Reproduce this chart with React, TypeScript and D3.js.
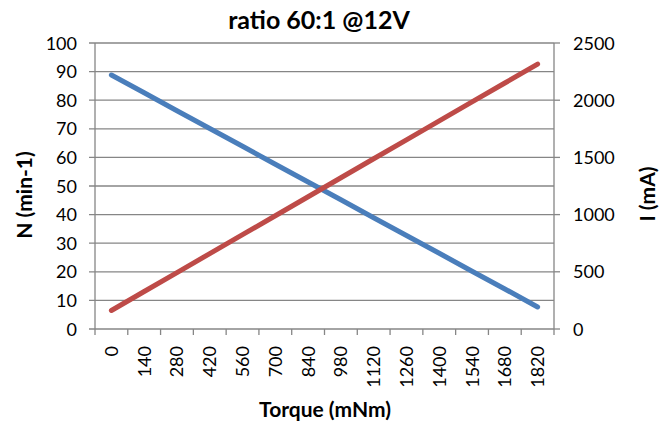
import React from "react";
import * as d3 from "d3";

const categories = ["0","140","280","420","560","700","840","980","1120","1260","1400","1540","1680","1820"];
const speedN = [88.8, 82.6, 76.3, 70.1, 63.9, 57.6, 51.4, 45.2, 38.9, 32.7, 26.5, 20.2, 14.0, 7.7];
const currentMA = [162, 328, 493, 659, 825, 990, 1156, 1322, 1488, 1653, 1819, 1985, 2150, 2316];
const leftTicks = [0,10,20,30,40,50,60,70,80,90,100];
const rightTicks = [0,500,1000,1500,2000,2500];

const W = 672, H = 430;
const L = 95, R = 554, T = 43, B = 329;
const FONT = "Lato, 'Open Sans', sans-serif";
const GRID = "#868686";
const TICK_FS = 18;

export default function App() {
  const x = d3.scaleBand<string>().domain(categories).range([L, R]);
  const yL = d3.scaleLinear().domain([0, 100]).range([B, T]);
  const yR = d3.scaleLinear().domain([0, 2500]).range([B, T]);
  const cx = (c: string) => (x(c) as number) + x.bandwidth() / 2;
  const lineN = d3.line<number>().x((_, i) => cx(categories[i])).y(d => yL(d));
  const lineI = d3.line<number>().x((_, i) => cx(categories[i])).y(d => yR(d));
  const bounds = categories.map(c => x(c) as number).concat([R]);

  return (
    <svg width={W} height={H} style={{ position: "absolute", left: 0, top: 0, background: "#fff" }}>
      <rect x={0} y={0} width={W} height={H} fill="#fff" />
      <text x={319} y={28.5} textAnchor="middle" fontFamily={FONT} fontWeight="bold" fontSize={25}>ratio 60:1 @12V</text>
      {leftTicks.map(t => (
        <g key={"g" + t}>
          <line x1={L - 6} x2={R} y1={yL(t)} y2={yL(t)} stroke={GRID} strokeWidth={1.3} />
          <text x={77} y={yL(t) + 6.5} textAnchor="end" fontFamily={FONT} fontSize={TICK_FS}>{t}</text>
        </g>
      ))}
      {rightTicks.map(t => (
        <g key={"r" + t}>
          <line x1={R} x2={R + 6} y1={yR(t)} y2={yR(t)} stroke={GRID} strokeWidth={1.3} />
          <text x={573} y={yR(t) + 6.5} textAnchor="start" fontFamily={FONT} fontSize={TICK_FS}>{t}</text>
        </g>
      ))}
      <line x1={L} x2={L} y1={T} y2={B} stroke={GRID} strokeWidth={1.3} />
      <line x1={R} x2={R} y1={T} y2={B} stroke={GRID} strokeWidth={1.3} />
      {bounds.map((b, i) => (
        <line key={"xt" + i} x1={b} x2={b} y1={B} y2={B + 6} stroke={GRID} strokeWidth={1.3} />
      ))}
      {categories.map(c => (
        <text key={"xl" + c} transform={`translate(${cx(c) + 6.5},${346}) rotate(-90)`} textAnchor="end" fontFamily={FONT} fontSize={TICK_FS}>{c}</text>
      ))}
      <path d={lineN(speedN) || ""} fill="none" stroke="#4A7EBB" strokeWidth={5} strokeLinecap="round" />
      <path d={lineI(currentMA) || ""} fill="none" stroke="#BE4B48" strokeWidth={5} strokeLinecap="round" />
      <text transform={`translate(32,195) rotate(-90)`} textAnchor="middle" fontFamily={FONT} fontWeight="bold" fontSize={21}>N (min-1)</text>
      <text transform={`translate(655,194) rotate(-90)`} textAnchor="middle" fontFamily={FONT} fontWeight="bold" fontSize={21}>I (mA)</text>
      <text x={325} y={417} textAnchor="middle" fontFamily={FONT} fontWeight="bold" fontSize={21}>Torque (mNm)</text>
    </svg>
  );
}
